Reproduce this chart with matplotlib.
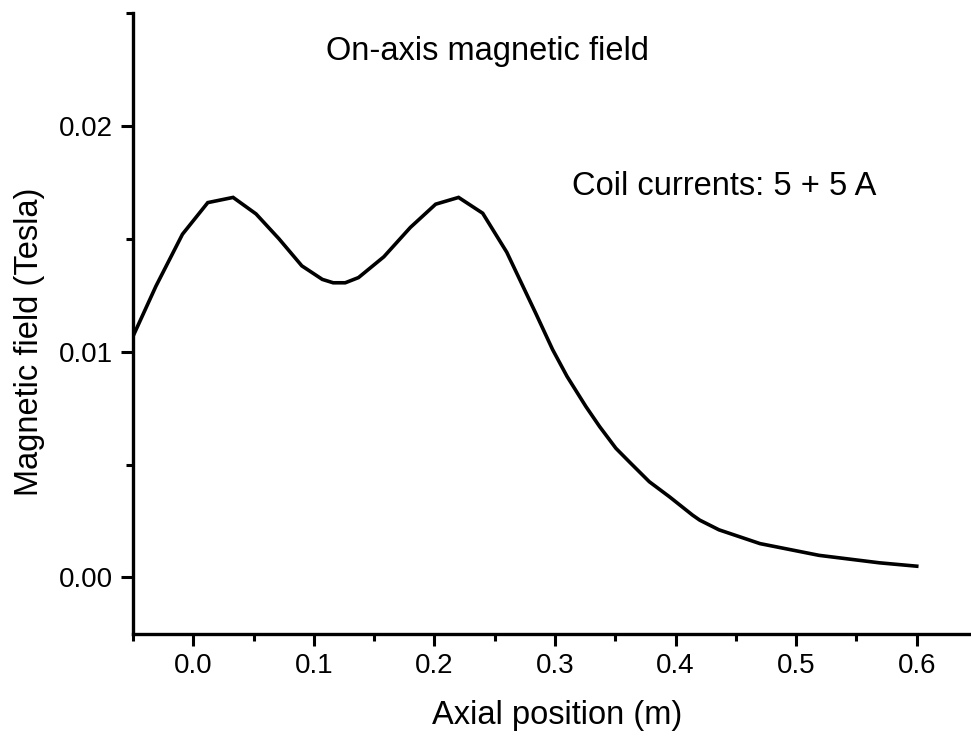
import matplotlib
matplotlib.use("Agg")
import matplotlib.pyplot as plt
from matplotlib.ticker import MultipleLocator

plt.rcParams['font.family'] = ['Liberation Sans', 'DejaVu Sans']

# on-axis field samples (m, Tesla)
position = [-0.050, -0.031, -0.009, 0.012, 0.033, 0.052, 0.071, 0.090, 0.107,
            0.116, 0.126, 0.137, 0.158, 0.180, 0.201, 0.220, 0.240, 0.260,
            0.284, 0.298, 0.310, 0.3256, 0.337, 0.3505, 0.362, 0.3782, 0.395,
            0.4141, 0.420, 0.436, 0.470, 0.519, 0.569, 0.600]
field = [0.01068, 0.0129, 0.0152, 0.0166, 0.01683, 0.0161, 0.0150, 0.0138, 0.0132,
         0.01305, 0.01305, 0.01328, 0.0142, 0.0155, 0.01653, 0.01683, 0.01613, 0.0144,
         0.0117, 0.01009, 0.0089, 0.00757, 0.00668, 0.00572, 0.0051, 0.00424, 0.00357,
         0.00276, 0.00254, 0.00211, 0.0015, 0.00098, 0.00065, 0.0005]

fig = plt.figure(figsize=(9.71, 7.38), dpi=100)
ax = fig.add_axes([0.137, 0.141, 0.863, 0.8415])

ax.plot(position, field, color='black', lw=2.6, solid_joinstyle='miter')

ax.set_xlim(-0.05, 0.645)
ax.set_ylim(-0.0025, 0.025)

ax.spines['top'].set_visible(False)
ax.spines['right'].set_visible(False)
for s in ('left', 'bottom'):
    ax.spines[s].set_linewidth(2.4)

ax.xaxis.set_minor_locator(MultipleLocator(0.05))
ax.yaxis.set_minor_locator(MultipleLocator(0.005))
ax.set_yticks([0.0, 0.01, 0.02])
ax.set_yticklabels(['0.00', '0.01', '0.02'])
ax.set_xticks([0.0, 0.1, 0.2, 0.3, 0.4, 0.5, 0.6])
ax.set_xticklabels(['0.0', '0.1', '0.2', '0.3', '0.4', '0.5', '0.6'])

ax.tick_params(which='major', direction='out', length=8.5, width=2.2,
               labelsize=20)
ax.tick_params(axis='x', which='major', pad=5)
ax.tick_params(axis='y', which='major', pad=6)
ax.tick_params(which='minor', direction='out', length=4.8, width=2.2)

ax.set_xlabel('Axial position (m)', fontsize=23.5)
ax.set_ylabel('Magnetic field (Tesla)', fontsize=23.5)
ax.xaxis.set_label_coords(0.506, -0.106)
ax.yaxis.set_label_coords(-0.105, 0.47)

ax.text(0.2437, 0.0233, 'On-axis magnetic field', fontsize=23.5,
        ha='center', va='center')
ax.text(0.314, 0.0173, 'Coil currents: 5 + 5 A', fontsize=23.5,
        ha='left', va='center')

fig.savefig('out.png', dpi=100)
